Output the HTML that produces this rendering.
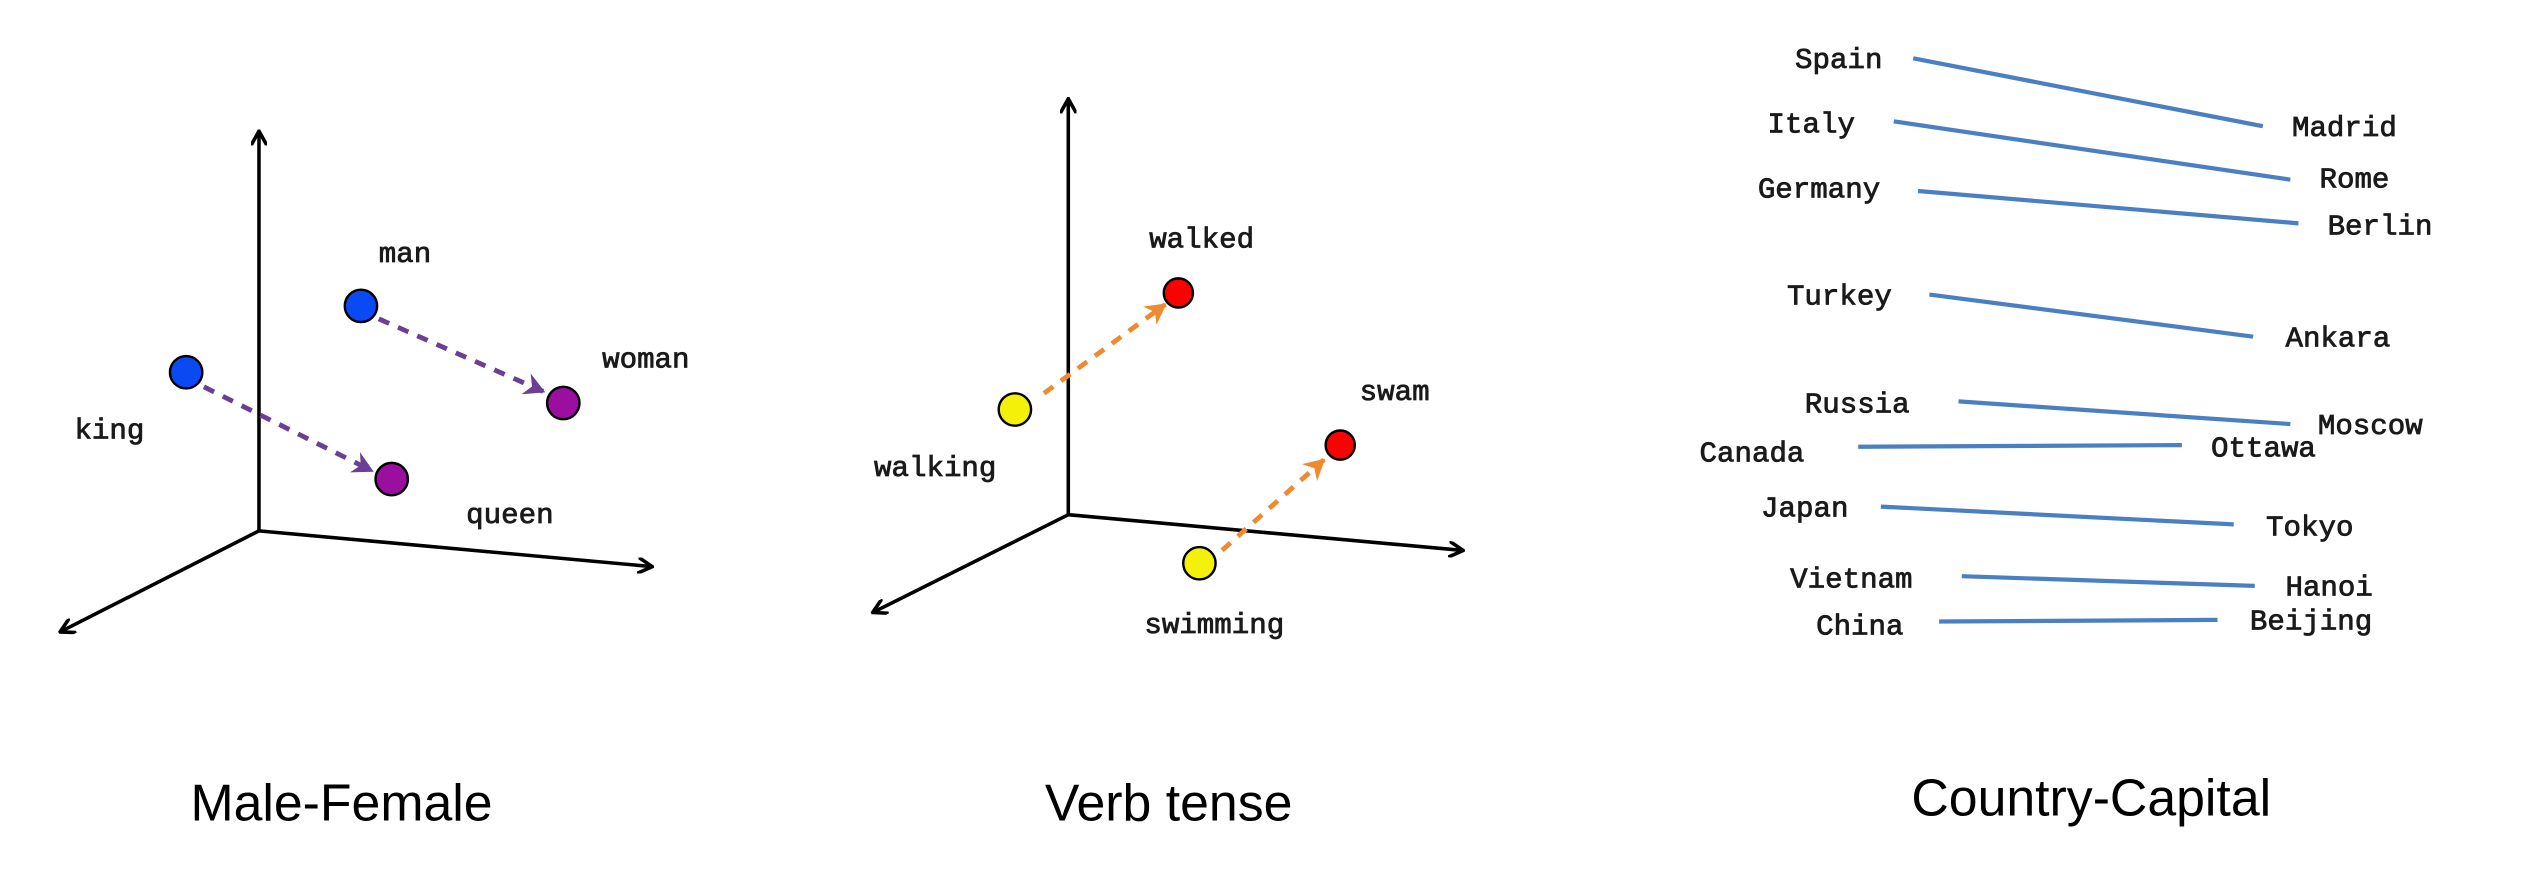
<!DOCTYPE html>
<html><head><meta charset="utf-8"><style>
html,body{margin:0;padding:0;background:#fff;}
svg{display:block;}
.l{font-family:"Liberation Mono",monospace;font-size:18px;fill:#1a1a1a;stroke:#1a1a1a;stroke-width:0.5;}
.t{font-family:"Liberation Sans",sans-serif;font-size:32px;fill:#000;}
</style></head><body>
<svg width="2538" height="874" viewBox="0 0 1568 540" preserveAspectRatio="none" xmlns="http://www.w3.org/2000/svg">
<defs>
<marker id="ak" markerWidth="10" markerHeight="10" refX="8" refY="5" orient="auto" markerUnits="userSpaceOnUse"><path d="M0,0 L9,5 L0,10" fill="none" stroke="#000" stroke-width="2.2"/></marker>
<marker id="ap" markerWidth="14" markerHeight="14" refX="12" refY="7" orient="auto" markerUnits="userSpaceOnUse"><path d="M0,0 L13,7 L0,14 L4,7 Z" fill="#6b3f94"/></marker>
<marker id="ao" markerWidth="14" markerHeight="14" refX="12" refY="7" orient="auto" markerUnits="userSpaceOnUse"><path d="M0,0 L13,7 L0,14 L4,7 Z" fill="#f08a30"/></marker>
</defs>
<!-- Panel 1 -->
<g stroke="#000" stroke-width="2.2" fill="none">
<line x1="160" y1="328" x2="160" y2="82" marker-end="url(#ak)"/>
<line x1="160" y1="328" x2="402" y2="350" marker-end="url(#ak)"/>
<line x1="160" y1="328" x2="38" y2="390" marker-end="url(#ak)"/>
</g>
<g stroke="#6b3f94" stroke-width="3" stroke-dasharray="7,6" fill="none">
<line x1="234" y1="197" x2="336" y2="242" marker-end="url(#ap)"/>
<line x1="126" y1="239" x2="230" y2="291" marker-end="url(#ap)"/>
</g>
<g stroke="#000" stroke-width="1.5">
<circle cx="223" cy="189" r="10" fill="#0a4af5"/>
<circle cx="115" cy="230" r="10" fill="#0a4af5"/>
<circle cx="348" cy="249" r="10" fill="#9a0fa0"/>
<circle cx="242" cy="296" r="10" fill="#9a0fa0"/>
</g>
<text class="l" x="234" y="162">man</text>
<text class="l" x="46" y="271">king</text>
<text class="l" x="372" y="227">woman</text>
<text class="l" x="288" y="323">queen</text>
<text class="t" x="211" y="507" text-anchor="middle">Male-Female</text>
<!-- Panel 2 -->
<g stroke="#000" stroke-width="2.2" fill="none">
<line x1="660" y1="318" x2="660" y2="62" marker-end="url(#ak)"/>
<line x1="660" y1="318" x2="903" y2="340" marker-end="url(#ak)"/>
<line x1="660" y1="318" x2="540" y2="378" marker-end="url(#ak)"/>
</g>
<g stroke="#f08a30" stroke-width="3" stroke-dasharray="7,6" fill="none">
<line x1="645" y1="243" x2="720" y2="188" marker-end="url(#ao)"/>
<line x1="755" y1="340" x2="818" y2="284" marker-end="url(#ao)"/>
</g>
<g stroke="#000" stroke-width="1.5">
<circle cx="627" cy="253" r="10" fill="#f5f00a"/>
<circle cx="728" cy="181" r="9" fill="#f00"/>
<circle cx="741" cy="348" r="10" fill="#f5f00a"/>
<circle cx="828" cy="275" r="9" fill="#f00"/>
</g>
<text class="l" x="710" y="153">walked</text>
<text class="l" x="540" y="294">walking</text>
<text class="l" x="840" y="247">swam</text>
<text class="l" x="707" y="391">swimming</text>
<text class="t" x="722" y="507" text-anchor="middle">Verb tense</text>
<!-- Panel 3 -->
<g stroke="#4a7fc1" stroke-width="2.6" fill="none">
<line x1="1182" y1="36" x2="1398" y2="78"/>
<line x1="1170" y1="75" x2="1415" y2="111"/>
<line x1="1185" y1="118" x2="1420" y2="138"/>
<line x1="1192" y1="182" x2="1392" y2="208"/>
<line x1="1210" y1="248" x2="1415" y2="262"/>
<line x1="1148" y1="276" x2="1348" y2="275"/>
<line x1="1162" y1="313" x2="1380" y2="324"/>
<line x1="1212" y1="356" x2="1393" y2="362"/>
<line x1="1198" y1="384" x2="1370" y2="383"/>
</g>
<text class="l" x="1109" y="42">Spain</text>
<text class="l" x="1092" y="82">Italy</text>
<text class="l" x="1086" y="122">Germany</text>
<text class="l" x="1104" y="188">Turkey</text>
<text class="l" x="1115" y="255">Russia</text>
<text class="l" x="1050" y="285">Canada</text>
<text class="l" x="1088" y="319">Japan</text>
<text class="l" x="1106" y="363">Vietnam</text>
<text class="l" x="1122" y="392">China</text>
<text class="l" x="1416" y="84">Madrid</text>
<text class="l" x="1433" y="116">Rome</text>
<text class="l" x="1438" y="145">Berlin</text>
<text class="l" x="1412" y="214">Ankara</text>
<text class="l" x="1432" y="268">Moscow</text>
<text class="l" x="1366" y="282">Ottawa</text>
<text class="l" x="1400" y="331">Tokyo</text>
<text class="l" x="1412" y="368">Hanoi</text>
<text class="l" x="1390" y="389">Beijing</text>
<text class="t" x="1292" y="504" text-anchor="middle">Country-Capital</text>
</svg>
</body></html>
